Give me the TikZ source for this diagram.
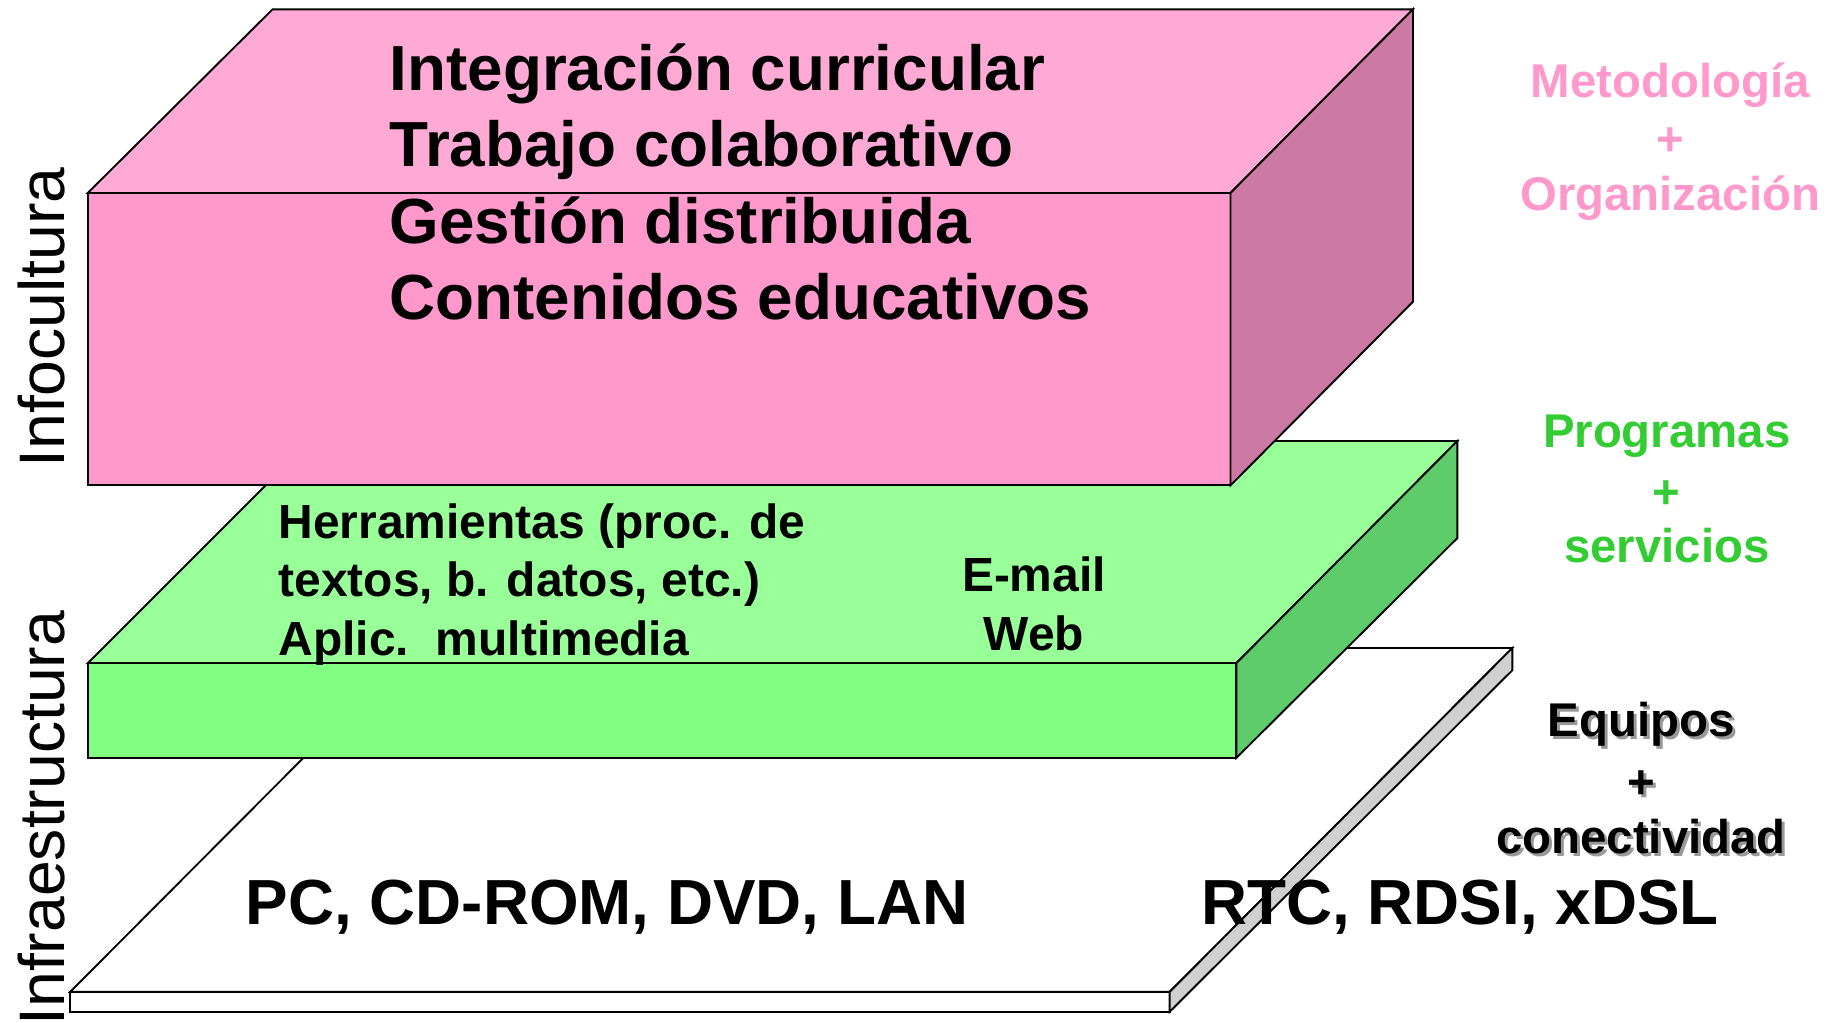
\documentclass[tikz,border=0pt]{standalone}
\usepackage{fontspec}
\setmainfont{Liberation Sans}
\definecolor{pinktop}{HTML}{FFAAD5}
\definecolor{pinkfront}{HTML}{FF99CC}
\definecolor{pinkside}{HTML}{CC7AA3}
\definecolor{greentop}{HTML}{99FF99}
\definecolor{greenfront}{HTML}{80FF80}
\definecolor{greenside}{HTML}{5FCC6B}
\definecolor{plateside}{HTML}{D0D0D0}
\definecolor{pinklabel}{HTML}{FF99CC}
\definecolor{greenlabel}{HTML}{33CC33}
\begin{document}
\begin{tikzpicture}[x=1pt,y=-1pt,
  face/.style={draw=black,line width=1.6pt,line join=miter},
  bigtxt/.style={inner sep=0pt,anchor=base west,font=\fontsize{54.5}{66}\selectfont\bfseries},
  midtxt/.style={inner sep=0pt,anchor=base west,font=\fontsize{41}{50}\selectfont\bfseries},
  webtxt/.style={inner sep=0pt,anchor=base,font=\fontsize{41}{50}\selectfont\bfseries},
  bottxt/.style={inner sep=0pt,anchor=base west,font=\fontsize{54.5}{66}\selectfont\bfseries},
  sidetxt/.style={inner sep=0pt,anchor=base west,rotate=90,font=\fontsize{55}{66}\selectfont},
  lbl/.style={inner sep=0pt,anchor=base,font=\fontsize{40.5}{50}\selectfont\bfseries}]
\useasboundingbox (0,0) rectangle (1568,873.8);
% ---- bottom plate ----
\draw[face,fill=white] (60,848) -- (353,554) -- (1293,554) -- (1000,848) -- cycle;
\draw[face,fill=white] (60,848) rectangle (1000,865);
\draw[face,fill=plateside] (1000,848) -- (1293,554) -- (1293,573) -- (1000,865) -- cycle;
% ---- green slab ----
\draw[face,fill=greentop] (75,567) -- (265,377) -- (1246,377) -- (1057,567) -- cycle;
\draw[face,fill=greenfront] (75,567) rectangle (1057,648);
\draw[face,fill=greenside] (1057,567) -- (1246,377) -- (1246,460) -- (1057,648) -- cycle;
% ---- pink block ----
\draw[face,fill=pinktop] (75,165) -- (233,8) -- (1208,8) -- (1052,165) -- cycle;
\draw[face,fill=pinkfront] (75,165) rectangle (1052,415);
\draw[face,fill=pinkside] (1052,165) -- (1208,8) -- (1208,258) -- (1052,415) -- cycle;
% ---- pink texts ----
\node[bigtxt] (p1) at (333,77) {Integración curricular};
\node[bigtxt] (p2) at (333,142.5) {Trabajo colaborativo};
\node[bigtxt] (p3) at (333,208) {Gestión distribuida};
\node[bigtxt] (p4) at (333,273.5) {Contenidos educativos};
% ---- green texts ----
\node[midtxt] (g1) at (238,460) {Herramientas (proc. de};
\node[midtxt] (g2) at (238,510) {textos, b. datos, etc.)};
\node[midtxt] (g3) at (238,560) {Aplic.\ \ multimedia};
\node[webtxt] (g4) at (884,506) {E-mail};
\node[webtxt] (g5) at (884,556) {Web};
% ---- plate texts ----
\node[bottxt] (b1) at (210,790) {PC, CD-ROM, DVD, LAN};
\node[bottxt] (b2) at (1027,790) {RTC, RDSI, xDSL};
% ---- side texts ----
\node[sidetxt] (s1) at (55,400) {Infocultura};
\node[sidetxt] (s2) at (55,877) {Infraestructura};
% ---- right labels ----
\node[lbl,text=pinklabel] (m1) at (1428,83) {Metodología};
\node[lbl,text=pinklabel] (m2) at (1428,133) {+};
\node[lbl,text=pinklabel] (m3) at (1428,180) {Organización};
\node[lbl,text=greenlabel] (r1) at (1425,383) {Programas};
\node[lbl,text=greenlabel] (r2) at (1425,435) {+};
\node[lbl,text=greenlabel] (r3) at (1425,481) {servicios};
\node[lbl,text=black!40] (e1s) at (1405.5,632.5) {Equipos};
\node[lbl,text=black!40] (e2s) at (1405.5,685.5) {+};
\node[lbl,text=black!40] (e3s) at (1405.5,732.5) {conectividad};
\node[lbl] (e1) at (1403,630) {Equipos};
\node[lbl] (e2) at (1403,683) {+};
\node[lbl] (e3) at (1403,730) {conectividad};
\end{tikzpicture}
\end{document}
